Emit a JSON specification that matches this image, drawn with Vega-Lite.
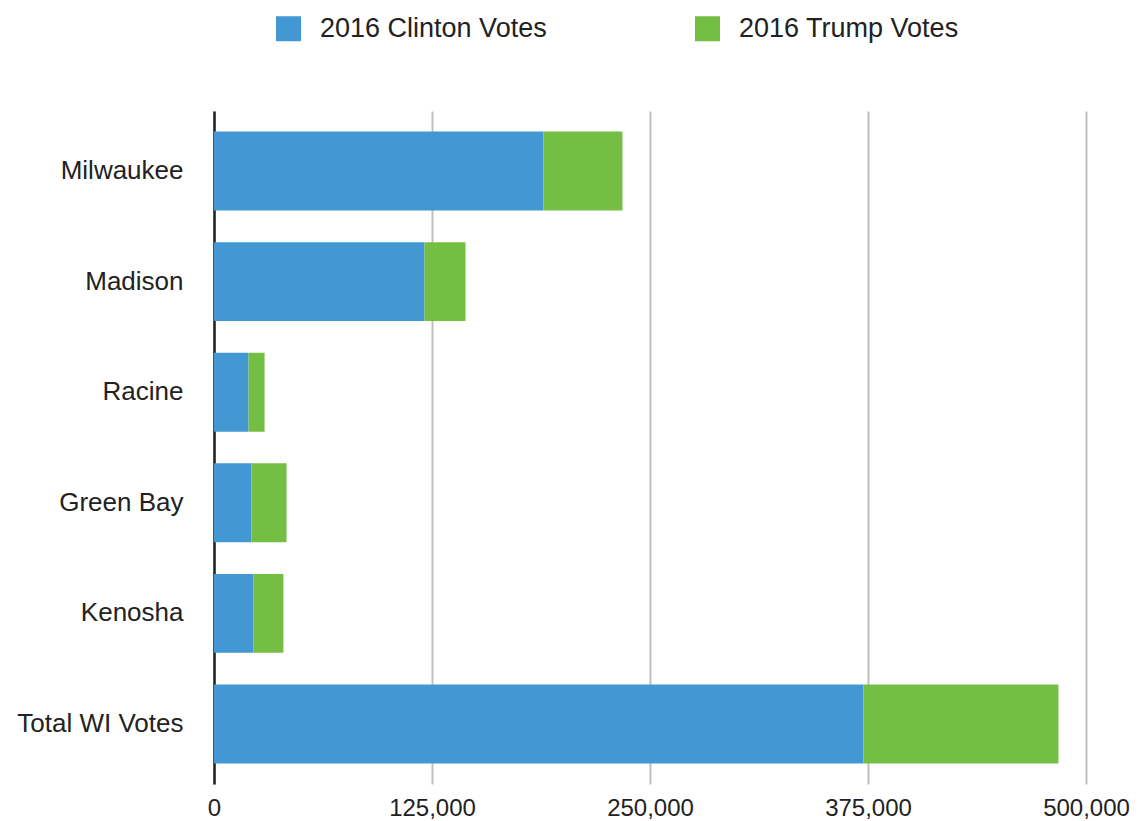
{
  "$schema": "https://vega.github.io/schema/vega-lite/v6.json",
  "autosize": "none",
  "width": 872,
  "height": 673,
  "padding": {"left": 214, "top": 111, "right": 52, "bottom": 37},
  "background": "white",
  "config": {
    "view": {"stroke": null},
    "font": "Liberation Sans"
  },
  "data": {
    "values": [
      {"city": "Milwaukee", "party": "2016 Clinton Votes", "votes": 188900},
      {"city": "Milwaukee", "party": "2016 Trump Votes", "votes": 45300},
      {"city": "Madison", "party": "2016 Clinton Votes", "votes": 120700},
      {"city": "Madison", "party": "2016 Trump Votes", "votes": 23500},
      {"city": "Racine", "party": "2016 Clinton Votes", "votes": 19800},
      {"city": "Racine", "party": "2016 Trump Votes", "votes": 9200},
      {"city": "Green Bay", "party": "2016 Clinton Votes", "votes": 21500},
      {"city": "Green Bay", "party": "2016 Trump Votes", "votes": 20100},
      {"city": "Kenosha", "party": "2016 Clinton Votes", "votes": 22600},
      {"city": "Kenosha", "party": "2016 Trump Votes", "votes": 17200},
      {"city": "Total WI Votes", "party": "2016 Clinton Votes", "votes": 372400},
      {"city": "Total WI Votes", "party": "2016 Trump Votes", "votes": 111800}
    ]
  },
  "mark": {"type": "bar"},
  "encoding": {
    "y": {
      "field": "city",
      "type": "nominal",
      "sort": ["Milwaukee", "Madison", "Racine", "Green Bay", "Kenosha", "Total WI Votes"],
      "scale": {"paddingInner": 0.286, "paddingOuter": 0.186},
      "axis": {
        "title": null,
        "ticks": false,
        "domain": true,
        "domainColor": "#222222",
        "domainWidth": 2.5,
        "labelFontSize": 26,
        "labelColor": "#222222",
        "labelPadding": 31,
        "labelFont": "Liberation Sans",
        "labelLimit": 300,
        "grid": false
      }
    },
    "x": {
      "field": "votes",
      "type": "quantitative",
      "stack": "zero",
      "scale": {"domain": [0, 500000], "nice": false},
      "axis": {
        "title": null,
        "values": [0, 125000, 250000, 375000, 500000],
        "format": ",d",
        "ticks": false,
        "domain": false,
        "grid": true,
        "gridColor": "#c0c0c0",
        "gridWidth": 2,
        "labelFontSize": 24,
        "labelColor": "#222222",
        "labelPadding": 12,
        "labelFont": "Liberation Sans",
        "labelFlush": false
      }
    },
    "color": {
      "field": "party",
      "type": "nominal",
      "scale": {
        "domain": ["2016 Clinton Votes", "2016 Trump Votes"],
        "range": ["#4398d4", "#74bf43"]
      },
      "legend": {
        "title": null,
        "orient": "none",
        "direction": "horizontal",
        "legendX": 61,
        "legendY": -96,
        "padding": 0,
        "symbolType": "square",
        "symbolSize": 625,
        "symbolStrokeWidth": 0,
        "symbolOpacity": 1,
        "labelFontSize": 27,
        "labelColor": "#222222",
        "labelFont": "Liberation Sans",
        "labelOffset": 18,
        "columnPadding": 147,
        "labelLimit": 400
      }
    },
    "order": {"field": "party", "type": "nominal", "sort": "ascending"}
  }
}
